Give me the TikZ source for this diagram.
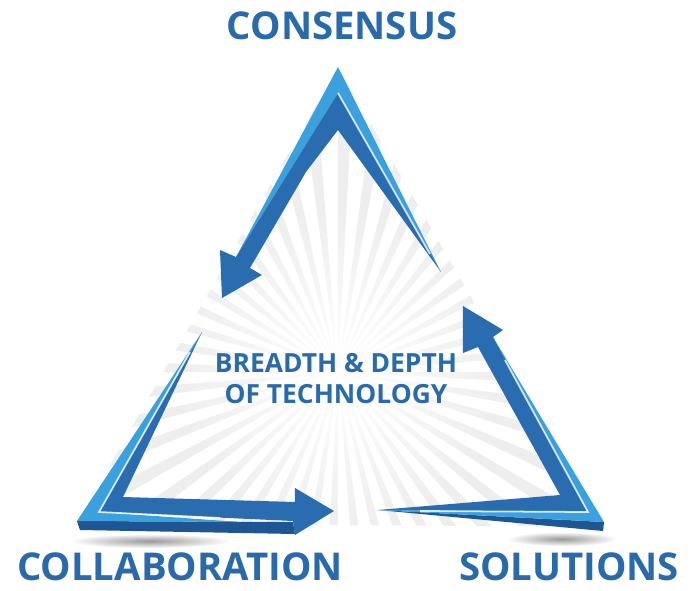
\documentclass[tikz,border=0pt]{standalone}
\usepackage{fontspec}
\setmainfont{Open Sans}
\usetikzlibrary{fadings}

\definecolor{facebl}{RGB}{41,108,176}
\definecolor{sidebl}{RGB}{30,86,148}
\definecolor{litebl}{RGB}{58,160,222}
\definecolor{textbl}{RGB}{40,106,170}
\definecolor{raygr}{RGB}{238,238,238}

\tikzfading[name=glow, inner color=transparent!0, outer color=transparent!100]

\begin{document}
\begin{tikzpicture}[
  x=0.01cm,y=-0.01cm,
  bigl/.style={font=\fontsize{10.9}{12}\selectfont\bfseries, text=textbl, inner sep=0pt, anchor=base},
  midl/.style={font=\fontsize{7.5}{8.8}\selectfont\bfseries, text=textbl, align=center, inner sep=0pt},
  face/.style={fill=facebl},
  side/.style={fill=sidebl},
  lite/.style={fill=litebl},
  shine/.style={white, line width=0.5pt, opacity=0.8}
]
  \fill[white] (0,0) rectangle (693,590);
  \useasboundingbox (0,0) rectangle (693,590);

  % sunburst behind the triangle
  \begin{scope}
    \clip (77,523) -- (338,67) -- (604,527) -- cycle;
    \foreach \a in {0,7.5,...,352.5}
      \fill[raygr] (338,372) -- +(\a:300) -- +(\a+3:300) -- cycle;
    \fill[white, path fading=glow] (338,372) circle (165);
  \end{scope}

  % soft shadows
  \fill[black!40, path fading=glow] (150,541) ellipse (80 and 7);
  \fill[black!40, path fading=glow] (562,539) ellipse (55 and 7);

  % top arrow
  \fill[lite] (338,67) -- (441,272) -- (338,93) -- (236,257) -- cycle;
  \fill[face] (338,93) -- (441,272) -- (338,130) -- (306,172) -- (250,268)
    -- (262,275) -- (222,298) -- (220,250) -- (236,257) -- cycle;
  \draw[shine] (338,93) -- (430,254);

  % right arrow
  \fill[side] (378,510) -- (604,522) -- (603,531) -- cycle;
  \fill[lite] (493,337) -- (604,522) -- (378,510) -- (588,512) -- cycle;
  \fill[face] (463,306) -- (503,330) -- (493,337) -- (588,512) -- (378,510)
    -- (560,495) -- (478,347) -- (463,353) -- cycle;
  \draw[shine] (505,360) -- (588,512) -- (420,511);

  % bottom left arrow
  \fill[side] (77,521) -- (293,522) -- (295,534) -- (80,530) -- cycle;
  \fill[lite] (202,332) -- (77,521) -- (240,522) -- (99,512) -- cycle;
  \fill[face] (202,332) -- (99,512) -- (293,521) -- (295,535) -- (334,511)
    -- (295,488) -- (295,502) -- (123,497) -- cycle;
  \draw[shine] (190,352) -- (99,512) -- (220,518);

  % labels
  \node[bigl] (cons) at (342,39) {CONSENSUS};
  \node[bigl] (coll) at (180,580) {COLLABORATION};
  \node[bigl] (sol) at (569,580) {SOLUTIONS};
  \node[midl] (tech) at (336,379) {BREADTH \& DEPTH\\OF TECHNOLOGY};
\end{tikzpicture}
\end{document}
